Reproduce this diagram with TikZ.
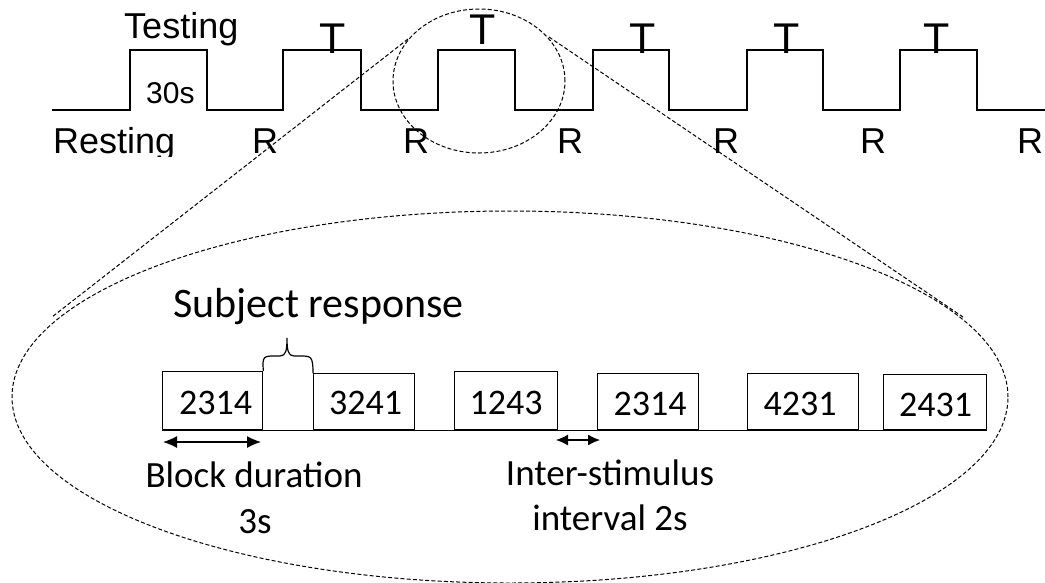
\documentclass[tikz,border=0pt]{standalone}
\usepackage{fontspec}
\newfontfamily\arialf{Liberation Sans}
\newfontfamily\calf{Carlito}
\newfontfamily\calnum{Carlito}[Numbers=Monospaced]
\usetikzlibrary{arrows.meta}
\begin{document}
\begin{tikzpicture}[x=1pt,y=-1pt,
  wave/.style={line width=1.4pt, line join=miter},
  dashline/.style={line width=1pt, dash pattern=on 4pt off 2.2pt},
  blk/.style={draw, line width=1.4pt, inner sep=0pt, anchor=north west},
  num/.style={font=\calnum\fontsize{36}{36}\selectfont, anchor=base, inner sep=0pt},
  arlbl/.style={font=\arialf\fontsize{#1}{#1}\selectfont, inner sep=0pt},
  cblbl/.style={font=\calf\fontsize{37}{37}\selectfont, inner sep=0pt, anchor=base},
  dimarrow/.style={{Latex[length=14pt,width=12pt]}-{Latex[length=14pt,width=12pt]}, line width=1.2pt},
  dimarrowS/.style={{Latex[length=12pt,width=11pt]}-{Latex[length=12pt,width=11pt]}, line width=1.2pt}
]
\useasboundingbox (0,0) rectangle (1045,582);

% ---- top block design waveform ----
\draw[wave] (52,110) -- (130,110) -- (130,50) -- (207,50) -- (207,110)
  -- (283,110) -- (283,50) -- (361,50) -- (361,110)
  -- (438,110) -- (438,50) -- (515,50) -- (515,110)
  -- (593,110) -- (593,50) -- (669,50) -- (669,110)
  -- (747,110) -- (747,50) -- (823,50) -- (823,110)
  -- (900,110) -- (900,50) -- (977,50) -- (977,110) -- (1045,110);

\node[arlbl=36, anchor=base west] (testing) at (124,38) {Testing};
\node[arlbl=30, anchor=base west] (dur) at (146,103) {30s};
\node[arlbl=43, anchor=base] (t1) at (333,53) {T};
\node[arlbl=43, anchor=base] (t2) at (483,44) {T};
\node[arlbl=43, anchor=base] (t3) at (643,53) {T};
\node[arlbl=43, anchor=base] (t4) at (787,53) {T};
\node[arlbl=43, anchor=base] (t5) at (937,53) {T};

\begin{scope}
  \clip (0,0) rectangle (1045,156);
  \node[arlbl=36, anchor=base west] (resting) at (53,153) {Resting};
  \node[arlbl=36, anchor=base west] (r1) at (252,153) {R};
  \node[arlbl=36, anchor=base west] (r2) at (403,153) {R};
  \node[arlbl=36, anchor=base west] (r3) at (557,153) {R};
  \node[arlbl=36, anchor=base west] (r4) at (713,153) {R};
  \node[arlbl=36, anchor=base west] (r5) at (860,153) {R};
  \node[arlbl=36, anchor=base west] (r6) at (1017,153) {R};
\end{scope}

% ---- zoom ellipses and tangent lines ----
\draw[dashline] (479,81) ellipse [x radius=86pt, y radius=72pt];
\draw[dashline] (510,397) ellipse [x radius=498pt, y radius=186pt];
\coordinate (sl) at (408,39);
\coordinate (sr) at (549,37);
\coordinate (bl) at (52,317);
\coordinate (br) at (963,317);
\draw[dashline] (sl) -- (bl);
\draw[dashline] (sr) -- (br);

% ---- stimulus blocks ----
\node[blk, minimum width=100pt, minimum height=58pt] (b1) at (162,371) {};
\node[blk, minimum width=101pt, minimum height=56pt] (b2) at (313,373) {};
\node[blk, minimum width=103pt, minimum height=58pt] (b3) at (454,371) {};
\node[blk, minimum width=101pt, minimum height=56pt] (b4) at (597,373) {};
\node[blk, minimum width=111pt, minimum height=56pt] (b5) at (747,373) {};
\node[blk, minimum width=103pt, minimum height=55pt] (b6) at (883,374) {};
\draw[line width=1.4pt] (b1.south west) -- (b6.south east);

\node[num] (n1) at (215.5,414) {2314};
\node[num] (n2) at (365.5,414) {3241};
\node[num] (n3) at (506,414) {1243};
\node[num] (n4) at (650,415) {2314};
\node[num] (n5) at (800,415) {4231};
\node[num] (n6) at (935.5,416) {2431};

% subject response brace
\draw[line width=1.2pt] (b1.north east) .. controls (262,356) and (264,356) .. (275,356)
  -- (280,356) .. controls (286,356) and (287,350) .. (287,338)
  .. controls (287,350) and (288,356) .. (294,356) -- (300,356)
  .. controls (311,356) and (313,356) .. (b2.north west);
\node[font=\calf\fontsize{42}{42}\selectfont, inner sep=0pt, anchor=base west] (subj) at (173,317) {Subject response};

% dimension arrows
\coordinate (bd1) at (163,442);
\coordinate (bd2) at (261,442);
\draw[dimarrow] (bd1) -- (bd2);
\coordinate (is1) at (556,440);
\coordinate (is2) at (600,440);
\draw[dimarrowS] (is1) -- (is2);

\node[cblbl] (bdl) at (254,487) {Block duration};
\node[cblbl] (bds) at (255,533) {3s};
\node[cblbl] (isl) at (610,485) {Inter-stimulus};
\node[cblbl] (isi) at (610,530) {interval 2s};
\end{tikzpicture}
\end{document}
